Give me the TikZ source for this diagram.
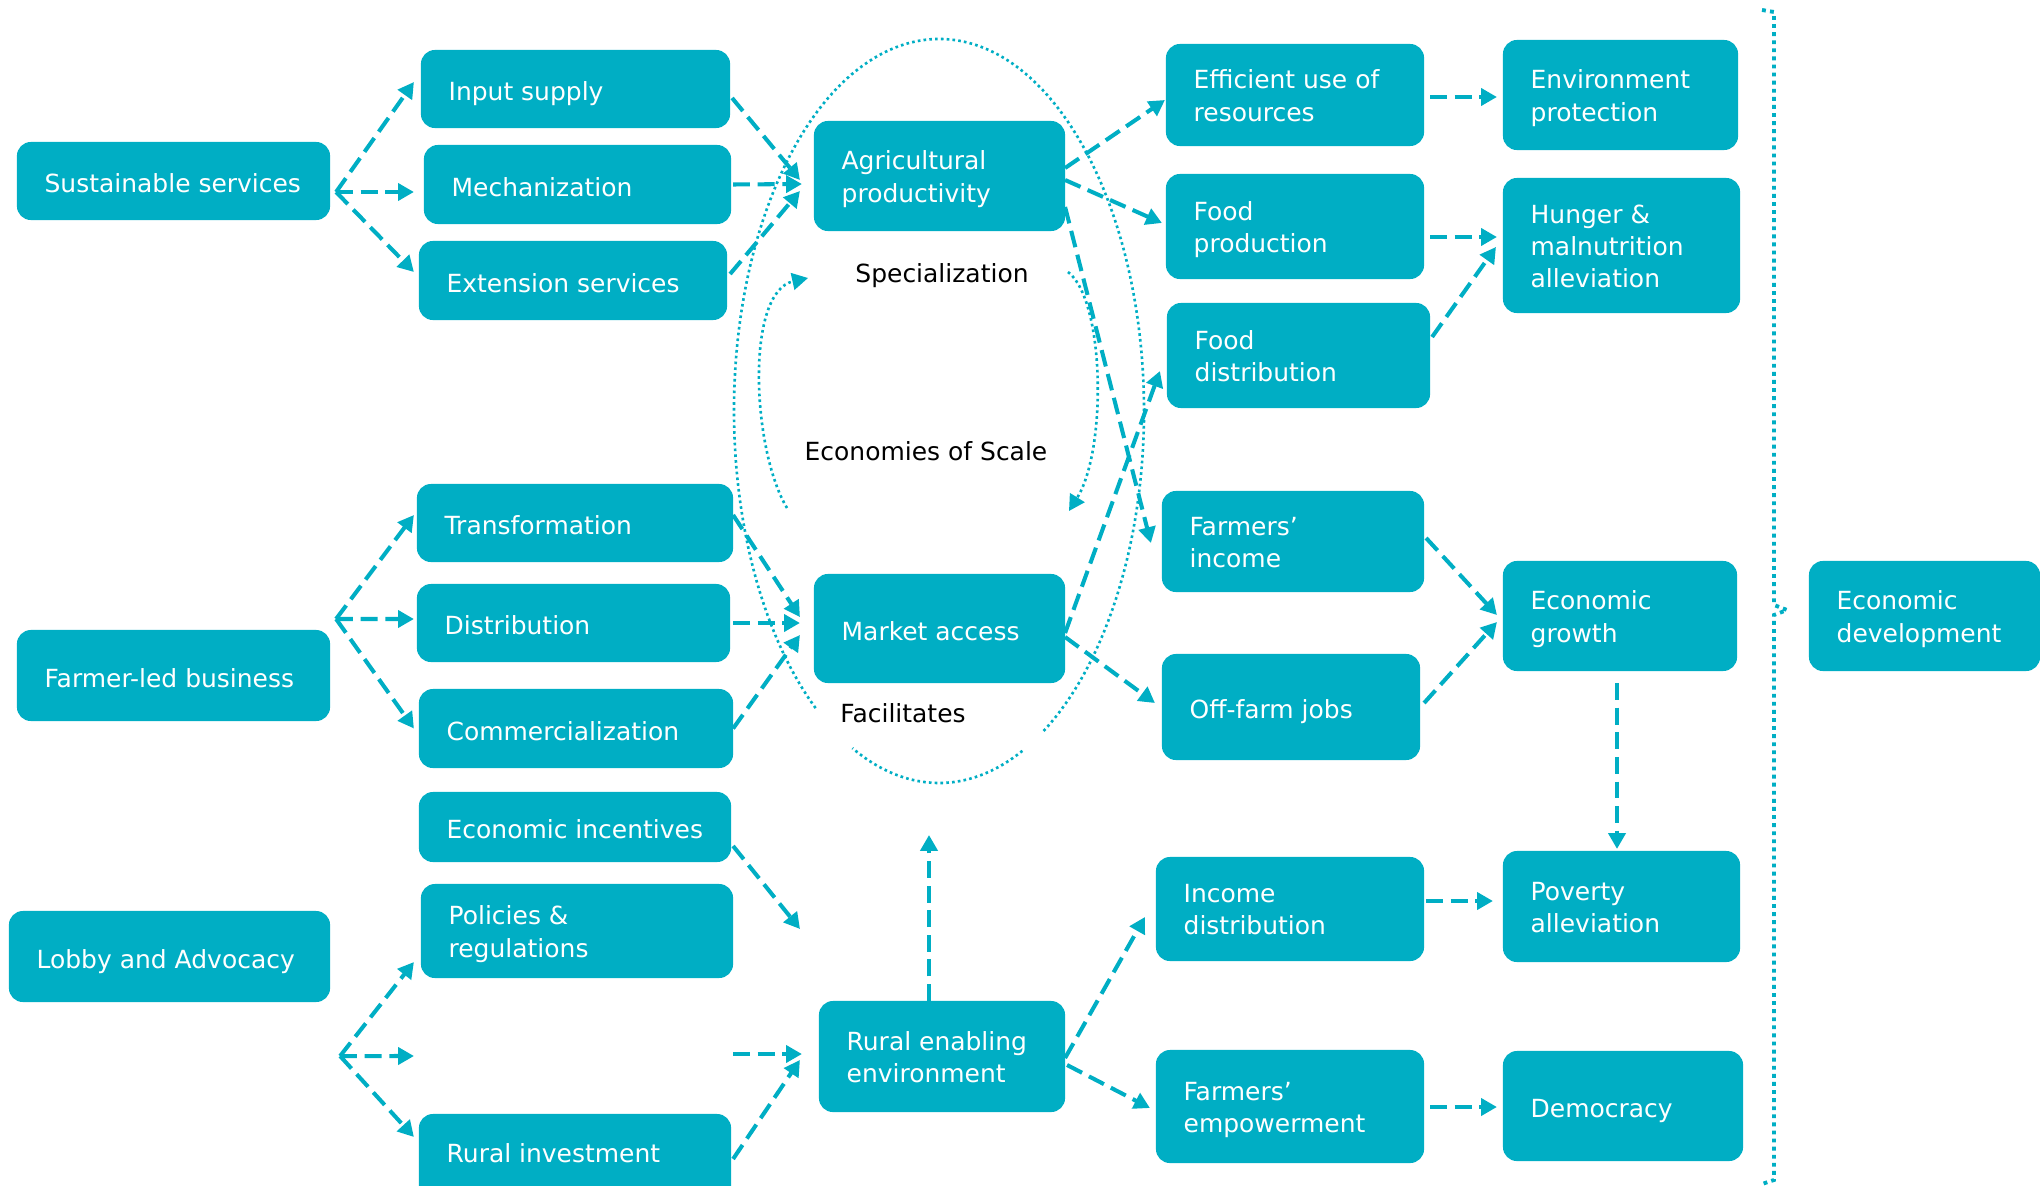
\documentclass[tikz,border=0pt]{standalone}
\usepackage{fontspec}
\setmainfont{DejaVu Sans}
\usetikzlibrary{arrows.meta,calc}
\definecolor{tl}{RGB}{0,174,196}
\newcommand\mybox[6]{%
  \pgfmathsetmacro\bw{(#4-#2)/100}%
  \pgfmathsetmacro\bh{(#5-#3)/100}%
  \node[tbox, minimum width=\bw cm, minimum height=\bh cm] (#1) at ({(#2+#4)/2},{(#3+#5)/2}) {};%
  \node[lbl] (#1t) at ([xshift=0.27cm,yshift=-0.055cm]#1.west) {#6};%
}
\begin{document}
\begin{tikzpicture}[x=0.01cm,y=-0.01cm,
  tbox/.style={fill=tl, draw=none, rounded corners=0.14cm, inner sep=0pt, outer sep=0pt},
  lbl/.style={anchor=west, inner sep=0pt, align=left, text=white, font=\fontsize{7.1}{9.2}\selectfont,
    execute at begin node=\strut, execute at end node=\strut},
  captxt/.style={inner sep=0pt, text=black, font=\fontsize{7.1}{9.2}\selectfont,
    execute at begin node=\strut},
  darr/.style={draw=tl, line width=1.15pt, dash pattern=on 4.8pt off 2.2pt, -{Triangle[length=4.5pt,width=4.8pt]}},
  dotline/.style={draw=tl, line width=0.75pt, dash pattern=on 0.75pt off 0.9pt},
  dotarr/.style={dotline, -{Triangle[length=4.5pt,width=4.8pt]}},
  brk/.style={draw=tl, line width=1.1pt, dash pattern=on 1.1pt off 1.2pt}]
\useasboundingbox (0,0) rectangle (2040,1185);
\clip (0,0) rectangle (2040,1185);

% outer dotted ellipse (with gaps)
\draw[dotline] (939,411) ++(127:205 and 372) arc[start angle=127, end angle=420, x radius=205, y radius=372];
\draw[dotline] (939,411) ++(66:205 and 372) arc[start angle=66, end angle=115, x radius=205, y radius=372];

% inner curved arrows
\coordinate (cl1) at (787,508);
\coordinate (cl2) at (808,278);
\coordinate (cr1) at (1068,272);
\coordinate (cr2) at (1069,511);
\draw[dotarr] (cl1) .. controls (752,450) and (745,292) .. (cl2);
\draw[dotarr] (cr1) .. controls (1105,300) and (1107,450) .. (cr2);

% labels
\node[captxt] (spec) at (942,276) {Specialization};
\node[captxt] (eos) at (926,454) {Economies of Scale};
\node[captxt] (fac) at (903,716) {Facilitates};

% boxes
\mybox{ss}{17}{142}{330}{220}{Sustainable services}
\mybox{inp}{421}{50}{730}{128}{Input supply}
\mybox{mech}{424}{145}{731}{224}{Mechanization}
\mybox{ext}{419}{241}{727}{320}{Extension services}
\mybox{ap}{814}{121}{1065}{231}{Agricultural\\productivity}
\mybox{ef}{1166}{44}{1424}{146}{Efficient use of\\resources}
\mybox{ep}{1503}{40}{1738}{150}{Environment\\protection}
\mybox{fp}{1166}{174}{1424}{279}{Food\\production}
\mybox{hu}{1503}{178}{1740}{313}{Hunger \&\\malnutrition\\alleviation}
\mybox{fd}{1167}{303}{1430}{408}{Food\\distribution}
\mybox{fi}{1162}{491}{1424}{592}{Farmers’\\income}
\mybox{eg}{1503}{561}{1737}{671}{Economic\\growth}
\mybox{ed}{1809}{561}{2040}{671}{Economic\\development}
\mybox{of}{1162}{654}{1420}{760}{Off-farm jobs}
\mybox{tr}{417}{484}{733}{562}{Transformation}
\mybox{di}{417}{584}{730}{662}{Distribution}
\mybox{fb}{17}{630}{330}{721}{Farmer-led business}
\mybox{co}{419}{689}{733}{768}{Commercialization}
\mybox{ma}{814}{574}{1065}{683}{Market access}
\mybox{ei}{419}{792}{731}{862}{Economic incentives}
\mybox{pr}{421}{884}{733}{978}{Policies \&\\regulations}
\mybox{la}{9}{911}{330}{1002}{Lobby and Advocacy}
\mybox{ree}{819}{1001}{1065}{1112}{Rural enabling\\environment}
\mybox{ri}{419}{1114}{731}{1214}{}
\node[lbl] (rit) at (446,1156) {Rural investment};
\mybox{id}{1156}{857}{1424}{961}{Income\\distribution}
\mybox{pa}{1503}{851}{1740}{962}{Poverty\\alleviation}
\mybox{fe}{1156}{1050}{1424}{1163}{Farmers’\\empowerment}
\mybox{de}{1503}{1051}{1743}{1161}{Democracy}

% fork points and free ends
\coordinate (f1) at ($(ss.east)+(6,11)$);
\coordinate (f2) at ($(fb.north east)+(6,-11)$);
\coordinate (f3) at ($(la.south east)+(10,54)$);
\coordinate (e1) at (800,929);
\coordinate (e2) at (414,1056);
\coordinate (e3) at (733,1054);
\coordinate (e4) at ($(ree.north)+(-13,-166)$);

% left column arrows
\draw[darr] (f1) -- ($(inp.west)+(-7,-7)$);
\draw[darr] (f1) -- ($(mech.west)+(-10,7.5)$);
\draw[darr] (f1) -- ($(ext.west)+(-5,-8.5)$);
\draw[darr] ($(inp.east)+(2,9)$) -- ($(ap.west)+(-14,4)$);
\draw[darr] ($(mech.east)+(2,0)$) -- ($(ap.west)+(-12,8)$);
\draw[darr] ($(ext.east)+(3,-6.5)$) -- ($(ap.west)+(-14,15)$);

\draw[darr] (f2) -- ($(tr.west)+(-3,-8)$);
\draw[darr] (f2) -- ($(di.west)+(-3,-4)$);
\draw[darr] (f2) -- ($(co.west)+(-5,0)$);
\draw[darr] ($(tr.east)+(0,-8)$) -- ($(ma.west)+(-14,-11.5)$);
\draw[darr] ($(di.east)+(3,0)$) -- ($(ma.west)+(-14,-5.5)$);
\draw[darr] ($(co.east)+(0,0)$) -- ($(ma.west)+(-14,6.5)$);

\draw[darr] ($(ei.east)+(2,19)$) -- (e1);
\draw[darr] (f3) -- ($(pr.west)+(-7,31)$);
\draw[darr] (f3) -- (e2);
\draw[darr] (f3) -- ($(ri.north west)+(-5,23)$);
\draw[darr] (e3) -- ($(ree.west)+(-17,-2.5)$);
\draw[darr] ($(ri.north east)+(2,45)$) -- ($(ree.west)+(-19,3.5)$);
\draw[darr] ($(ree.north)+(-13,0)$) -- (e4);

% middle to right
\draw[darr] ($(ap.east)+(0,-8)$) -- ($(ef.west)+(-1,5)$);
\draw[darr] ($(ap.east)+(0,4)$) -- ($(fp.west)+(-4,-3.5)$);
\draw[darr] ($(ap.east)+(0,31)$) -- ($(fi.west)+(-11,1.5)$);
\draw[darr] ($(ma.east)+(0,4.5)$) -- ($(fd.west)+(-7,15.5)$);
\draw[darr] ($(ma.east)+(0,8.5)$) -- ($(of.west)+(-7,-4)$);
\draw[darr] ($(ree.east)+(0,1.5)$) -- ($(id.west)+(-11,8)$);
\draw[darr] ($(ree.east)+(2,8.5)$) -- ($(fe.west)+(-6,1.5)$);

% right column
\draw[darr] ($(ef.east)+(6,2)$) -- ($(ep.west)+(-6,2)$);
\draw[darr] ($(fp.east)+(6,10.5)$) -- ($(hu.west)+(-6,-8.5)$);
\draw[darr] ($(fd.east)+(2,-18.5)$) -- ($(hu.west)+(-7,1.5)$);
\draw[darr] ($(fi.east)+(2,-3.5)$) -- ($(eg.west)+(-6,-1)$);
\draw[darr] ($(of.east)+(4,-4)$) -- ($(eg.west)+(-6,6)$);
\draw[darr] ($(eg.south)+(-3,12)$) -- ($(pa.north)+(-4.5,-2)$);
\draw[darr] ($(id.east)+(2,-8)$) -- ($(pa.west)+(-10,-5.5)$);
\draw[darr] ($(fe.east)+(6,0.5)$) -- ($(de.west)+(-6,1)$);

% bracket
\draw[brk] (1762,10) -- (1774,12) -- (1774,605) -- (1787,610) -- (1774,615) -- (1774,1180) -- (1762,1184);
\end{tikzpicture}
\end{document}
